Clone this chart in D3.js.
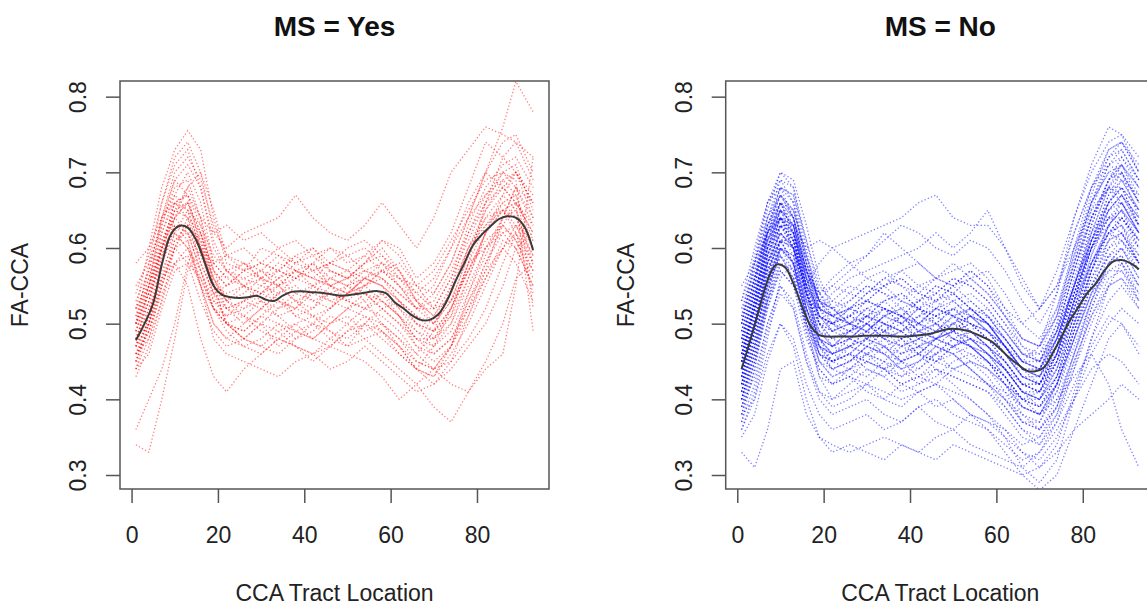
<!DOCTYPE html>
<html>
<head>
<meta charset="utf-8">
<script src="https://cdn.jsdelivr.net/npm/d3@7"></script>
<style>
  html, body { margin: 0; padding: 0; background: #fff; }
  svg { display: block; font-family: "Liberation Sans", Arial, Helvetica, sans-serif; }
</style>
</head>
<body>
<svg id="chart" width="1147" height="606"></svg>
<script>
const tractLocations = [1, 4, 7, 10, 13, 16, 19, 22, 26, 30, 34, 38, 42, 46, 50, 54, 58, 62, 66, 70, 74, 78, 82, 86, 89, 93];
const meanLocations = [1, 3, 5, 7, 9, 11, 13, 15, 17, 19, 21, 23, 25, 27, 29, 31, 33, 35, 37, 39, 41, 45, 49, 53, 57, 59, 61, 63, 65, 67, 69, 71, 73, 75, 77, 79, 81, 83, 85, 87, 89, 91, 93];
const xTicks = [0, 20, 40, 60, 80];
const yTicks = [0.3, 0.4, 0.5, 0.6, 0.7, 0.8];

// MS = Yes
const yesMean = [0.478, 0.500, 0.527, 0.578, 0.617, 0.629, 0.627, 0.610, 0.580, 0.550, 0.538, 0.535, 0.534, 0.535, 0.537, 0.532, 0.530, 0.537, 0.542, 0.543, 0.542, 0.540, 0.537, 0.540, 0.543, 0.540, 0.528, 0.520, 0.511, 0.505, 0.505, 0.512, 0.530, 0.556, 0.579, 0.603, 0.617, 0.628, 0.638, 0.642, 0.640, 0.628, 0.597];
const yes01 = [0.50, 0.58, 0.66, 0.72, 0.74, 0.70, 0.62, 0.60, 0.62, 0.63, 0.64, 0.67, 0.64, 0.62, 0.61, 0.63, 0.66, 0.63, 0.60, 0.64, 0.70, 0.73, 0.76, 0.75, 0.74, 0.72];
const yes02 = [0.52, 0.60, 0.68, 0.73, 0.755, 0.73, 0.64, 0.58, 0.57, 0.60, 0.59, 0.58, 0.60, 0.57, 0.56, 0.58, 0.61, 0.60, 0.56, 0.58, 0.62, 0.68, 0.74, 0.72, 0.70, 0.66];
const yes03 = [0.34, 0.33, 0.40, 0.48, 0.57, 0.60, 0.55, 0.50, 0.48, 0.50, 0.47, 0.49, 0.50, 0.48, 0.47, 0.50, 0.49, 0.46, 0.44, 0.47, 0.52, 0.58, 0.60, 0.62, 0.60, 0.55];
const yes04 = [0.36, 0.40, 0.44, 0.50, 0.58, 0.62, 0.56, 0.52, 0.50, 0.52, 0.54, 0.51, 0.50, 0.52, 0.55, 0.53, 0.50, 0.48, 0.46, 0.49, 0.55, 0.60, 0.63, 0.66, 0.64, 0.60];
const yes05 = [0.45, 0.50, 0.58, 0.63, 0.62, 0.57, 0.52, 0.50, 0.48, 0.47, 0.46, 0.48, 0.50, 0.49, 0.47, 0.48, 0.46, 0.44, 0.42, 0.39, 0.37, 0.41, 0.45, 0.50, 0.56, 0.58];
const yes06 = [0.44, 0.48, 0.55, 0.60, 0.61, 0.55, 0.48, 0.46, 0.45, 0.44, 0.43, 0.45, 0.46, 0.44, 0.45, 0.47, 0.45, 0.43, 0.41, 0.42, 0.44, 0.47, 0.50, 0.55, 0.60, 0.62];
const yes07 = [0.48, 0.52, 0.56, 0.58, 0.55, 0.48, 0.43, 0.41, 0.44, 0.46, 0.48, 0.47, 0.45, 0.47, 0.49, 0.50, 0.48, 0.46, 0.44, 0.43, 0.46, 0.50, 0.55, 0.60, 0.63, 0.61];
const yes08 = [0.47, 0.52, 0.60, 0.65, 0.66, 0.62, 0.57, 0.55, 0.56, 0.55, 0.57, 0.56, 0.55, 0.54, 0.55, 0.56, 0.55, 0.53, 0.51, 0.50, 0.54, 0.60, 0.65, 0.68, 0.66, 0.62];
const yes09 = [0.50, 0.55, 0.62, 0.67, 0.70, 0.66, 0.58, 0.56, 0.58, 0.57, 0.56, 0.58, 0.59, 0.57, 0.56, 0.58, 0.59, 0.57, 0.54, 0.52, 0.56, 0.63, 0.68, 0.71, 0.72, 0.68];
const yes10 = [0.46, 0.49, 0.55, 0.61, 0.63, 0.60, 0.53, 0.51, 0.52, 0.53, 0.51, 0.52, 0.54, 0.53, 0.52, 0.53, 0.54, 0.51, 0.48, 0.47, 0.50, 0.55, 0.60, 0.64, 0.65, 0.60];
const yes11 = [0.55, 0.58, 0.63, 0.69, 0.71, 0.68, 0.60, 0.57, 0.55, 0.56, 0.58, 0.57, 0.55, 0.56, 0.57, 0.55, 0.56, 0.54, 0.52, 0.54, 0.58, 0.64, 0.67, 0.69, 0.70, 0.64];
const yes12 = [0.58, 0.60, 0.64, 0.66, 0.65, 0.60, 0.55, 0.54, 0.55, 0.53, 0.52, 0.54, 0.55, 0.53, 0.54, 0.56, 0.57, 0.55, 0.53, 0.55, 0.60, 0.66, 0.70, 0.68, 0.66, 0.63];
const yes13 = [0.44, 0.46, 0.52, 0.57, 0.58, 0.56, 0.52, 0.49, 0.47, 0.48, 0.50, 0.49, 0.48, 0.50, 0.51, 0.49, 0.50, 0.48, 0.45, 0.44, 0.45, 0.48, 0.52, 0.58, 0.62, 0.57];
const yes14 = [0.49, 0.54, 0.61, 0.65, 0.64, 0.60, 0.56, 0.53, 0.54, 0.56, 0.55, 0.53, 0.54, 0.56, 0.55, 0.54, 0.52, 0.50, 0.48, 0.46, 0.48, 0.53, 0.58, 0.62, 0.63, 0.59];
const yes15 = [0.50, 0.56, 0.62, 0.66, 0.67, 0.64, 0.62, 0.63, 0.61, 0.62, 0.60, 0.61, 0.59, 0.60, 0.58, 0.59, 0.57, 0.56, 0.55, 0.57, 0.61, 0.65, 0.69, 0.70, 0.68, 0.66];
const yes16 = [0.51, 0.55, 0.60, 0.64, 0.66, 0.62, 0.57, 0.55, 0.57, 0.58, 0.57, 0.56, 0.58, 0.60, 0.59, 0.57, 0.58, 0.56, 0.54, 0.56, 0.60, 0.64, 0.70, 0.76, 0.82, 0.78];
const yes17 = [0.47, 0.50, 0.56, 0.60, 0.58, 0.53, 0.49, 0.47, 0.48, 0.50, 0.49, 0.47, 0.46, 0.48, 0.50, 0.52, 0.51, 0.49, 0.46, 0.44, 0.42, 0.41, 0.44, 0.46, 0.55, 0.72];
const yes18 = [0.48, 0.53, 0.59, 0.63, 0.63, 0.58, 0.54, 0.52, 0.53, 0.52, 0.54, 0.55, 0.53, 0.54, 0.53, 0.55, 0.57, 0.58, 0.55, 0.52, 0.53, 0.57, 0.62, 0.66, 0.67, 0.60];
const yes19 = [0.53, 0.57, 0.64, 0.70, 0.72, 0.69, 0.63, 0.59, 0.58, 0.56, 0.57, 0.59, 0.57, 0.58, 0.60, 0.61, 0.59, 0.56, 0.53, 0.50, 0.53, 0.59, 0.64, 0.67, 0.65, 0.58];
const yes20 = [0.45, 0.49, 0.56, 0.62, 0.65, 0.63, 0.57, 0.53, 0.51, 0.50, 0.52, 0.53, 0.51, 0.50, 0.52, 0.54, 0.53, 0.51, 0.47, 0.45, 0.47, 0.51, 0.56, 0.61, 0.60, 0.55];
const yes21 = [0.46, 0.51, 0.59, 0.65, 0.68, 0.64, 0.58, 0.56, 0.55, 0.57, 0.59, 0.57, 0.56, 0.55, 0.56, 0.58, 0.60, 0.57, 0.53, 0.51, 0.54, 0.60, 0.64, 0.65, 0.62, 0.54];
const yes22 = [0.52, 0.56, 0.63, 0.68, 0.69, 0.64, 0.55, 0.52, 0.51, 0.53, 0.55, 0.53, 0.52, 0.55, 0.53, 0.52, 0.54, 0.52, 0.49, 0.47, 0.49, 0.54, 0.59, 0.64, 0.68, 0.64];
const yes23 = [0.49, 0.53, 0.60, 0.66, 0.64, 0.58, 0.54, 0.55, 0.57, 0.56, 0.53, 0.52, 0.55, 0.57, 0.56, 0.54, 0.52, 0.53, 0.51, 0.49, 0.52, 0.57, 0.61, 0.63, 0.61, 0.56];
const yes24 = [0.47, 0.50, 0.57, 0.61, 0.62, 0.59, 0.55, 0.53, 0.55, 0.54, 0.56, 0.57, 0.56, 0.58, 0.57, 0.56, 0.55, 0.52, 0.50, 0.48, 0.51, 0.58, 0.66, 0.70, 0.69, 0.52];
const yes25 = [0.50, 0.54, 0.58, 0.62, 0.60, 0.56, 0.52, 0.50, 0.49, 0.51, 0.53, 0.52, 0.51, 0.52, 0.54, 0.56, 0.55, 0.53, 0.50, 0.49, 0.51, 0.56, 0.62, 0.65, 0.66, 0.49];
const yes26 = [0.46, 0.48, 0.53, 0.58, 0.59, 0.55, 0.50, 0.48, 0.47, 0.46, 0.48, 0.47, 0.46, 0.47, 0.46, 0.45, 0.43, 0.40, 0.42, 0.44, 0.47, 0.52, 0.58, 0.63, 0.66, 0.62];
const yes27 = [0.47, 0.55, 0.64, 0.69, 0.67, 0.60, 0.55, 0.57, 0.58, 0.56, 0.55, 0.57, 0.58, 0.55, 0.54, 0.56, 0.58, 0.57, 0.53, 0.51, 0.55, 0.62, 0.67, 0.70, 0.71, 0.65];
const yes28 = [0.43, 0.47, 0.53, 0.60, 0.64, 0.62, 0.55, 0.50, 0.49, 0.51, 0.50, 0.48, 0.49, 0.51, 0.50, 0.48, 0.49, 0.47, 0.44, 0.43, 0.47, 0.54, 0.60, 0.63, 0.61, 0.57];
const yes29 = [0.51, 0.57, 0.64, 0.67, 0.65, 0.60, 0.58, 0.59, 0.60, 0.58, 0.57, 0.59, 0.60, 0.58, 0.57, 0.59, 0.61, 0.59, 0.55, 0.54, 0.58, 0.64, 0.70, 0.74, 0.75, 0.70];
const yes30 = [0.48, 0.50, 0.55, 0.60, 0.63, 0.61, 0.56, 0.53, 0.52, 0.54, 0.56, 0.54, 0.53, 0.52, 0.54, 0.55, 0.53, 0.51, 0.49, 0.48, 0.50, 0.56, 0.62, 0.67, 0.70, 0.66];
const yes31 = [0.45, 0.51, 0.58, 0.63, 0.61, 0.55, 0.50, 0.48, 0.50, 0.52, 0.51, 0.49, 0.48, 0.50, 0.52, 0.51, 0.49, 0.47, 0.45, 0.44, 0.47, 0.53, 0.57, 0.60, 0.58, 0.53];
const yes32 = [0.50, 0.54, 0.60, 0.64, 0.68, 0.70, 0.65, 0.59, 0.57, 0.58, 0.60, 0.58, 0.57, 0.58, 0.59, 0.60, 0.58, 0.55, 0.52, 0.53, 0.57, 0.62, 0.66, 0.68, 0.70, 0.67];
const yes33 = [0.54, 0.59, 0.66, 0.71, 0.73, 0.68, 0.61, 0.57, 0.56, 0.57, 0.55, 0.56, 0.58, 0.56, 0.55, 0.57, 0.56, 0.53, 0.50, 0.49, 0.52, 0.57, 0.62, 0.65, 0.64, 0.59];
const yes34 = [0.46, 0.49, 0.54, 0.58, 0.60, 0.57, 0.52, 0.50, 0.51, 0.49, 0.48, 0.50, 0.51, 0.49, 0.48, 0.50, 0.52, 0.50, 0.47, 0.46, 0.48, 0.52, 0.56, 0.60, 0.62, 0.58];
const yes35 = [0.49, 0.55, 0.61, 0.64, 0.62, 0.57, 0.53, 0.52, 0.53, 0.55, 0.54, 0.56, 0.57, 0.55, 0.54, 0.55, 0.57, 0.55, 0.52, 0.50, 0.53, 0.59, 0.65, 0.69, 0.67, 0.61];
const yes36 = [0.44, 0.50, 0.58, 0.64, 0.66, 0.61, 0.54, 0.50, 0.48, 0.47, 0.49, 0.50, 0.48, 0.47, 0.49, 0.51, 0.50, 0.47, 0.44, 0.42, 0.45, 0.51, 0.57, 0.64, 0.68, 0.63];
const yes37 = [0.52, 0.55, 0.60, 0.62, 0.60, 0.55, 0.52, 0.51, 0.53, 0.54, 0.53, 0.51, 0.52, 0.54, 0.53, 0.52, 0.53, 0.51, 0.48, 0.48, 0.52, 0.58, 0.63, 0.65, 0.63, 0.58];
const yes38 = [0.48, 0.53, 0.60, 0.66, 0.67, 0.63, 0.59, 0.57, 0.55, 0.54, 0.55, 0.57, 0.56, 0.55, 0.56, 0.57, 0.56, 0.54, 0.52, 0.52, 0.56, 0.61, 0.66, 0.72, 0.74, 0.69];

// MS = No
const noMean = [0.440, 0.478, 0.518, 0.557, 0.578, 0.575, 0.553, 0.523, 0.497, 0.485, 0.483, 0.483, 0.483, 0.483, 0.484, 0.484, 0.484, 0.484, 0.483, 0.483, 0.484, 0.487, 0.493, 0.491, 0.482, 0.476, 0.466, 0.455, 0.446, 0.438, 0.437, 0.442, 0.461, 0.482, 0.504, 0.522, 0.540, 0.553, 0.570, 0.582, 0.584, 0.580, 0.572];
const no01 = [0.44, 0.52, 0.60, 0.66, 0.62, 0.53, 0.48, 0.47, 0.49, 0.48, 0.50, 0.49, 0.47, 0.48, 0.50, 0.49, 0.47, 0.45, 0.42, 0.41, 0.45, 0.52, 0.59, 0.64, 0.65, 0.60];
const no02 = [0.40, 0.47, 0.56, 0.62, 0.60, 0.52, 0.46, 0.44, 0.45, 0.47, 0.46, 0.44, 0.45, 0.47, 0.46, 0.44, 0.42, 0.40, 0.38, 0.37, 0.42, 0.48, 0.54, 0.60, 0.62, 0.59];
const no03 = [0.48, 0.56, 0.64, 0.69, 0.68, 0.60, 0.52, 0.50, 0.52, 0.51, 0.53, 0.54, 0.52, 0.51, 0.53, 0.54, 0.52, 0.49, 0.46, 0.45, 0.50, 0.58, 0.66, 0.72, 0.73, 0.69];
const no04 = [0.33, 0.31, 0.36, 0.44, 0.45, 0.38, 0.35, 0.34, 0.33, 0.34, 0.35, 0.34, 0.33, 0.32, 0.34, 0.33, 0.32, 0.31, 0.30, 0.31, 0.33, 0.36, 0.38, 0.40, 0.42, 0.40];
const no05 = [0.36, 0.40, 0.48, 0.56, 0.58, 0.50, 0.43, 0.40, 0.41, 0.42, 0.40, 0.39, 0.41, 0.42, 0.40, 0.38, 0.37, 0.36, 0.34, 0.35, 0.38, 0.44, 0.50, 0.55, 0.56, 0.52];
const no06 = [0.45, 0.53, 0.62, 0.67, 0.65, 0.58, 0.53, 0.55, 0.57, 0.59, 0.62, 0.60, 0.58, 0.56, 0.57, 0.58, 0.56, 0.52, 0.48, 0.47, 0.52, 0.60, 0.66, 0.70, 0.71, 0.66];
const no07 = [0.42, 0.50, 0.58, 0.62, 0.60, 0.55, 0.58, 0.60, 0.61, 0.62, 0.63, 0.64, 0.66, 0.67, 0.64, 0.63, 0.63, 0.60, 0.56, 0.52, 0.55, 0.62, 0.68, 0.72, 0.74, 0.70];
const no08 = [0.50, 0.58, 0.65, 0.70, 0.69, 0.63, 0.56, 0.52, 0.50, 0.51, 0.49, 0.50, 0.52, 0.50, 0.49, 0.51, 0.50, 0.47, 0.44, 0.43, 0.48, 0.55, 0.62, 0.68, 0.70, 0.64];
const no09 = [0.38, 0.44, 0.52, 0.58, 0.57, 0.49, 0.43, 0.42, 0.44, 0.43, 0.45, 0.44, 0.42, 0.43, 0.45, 0.46, 0.44, 0.41, 0.37, 0.36, 0.40, 0.46, 0.52, 0.58, 0.60, 0.57];
const no10 = [0.46, 0.54, 0.60, 0.63, 0.60, 0.54, 0.50, 0.49, 0.50, 0.52, 0.50, 0.49, 0.51, 0.52, 0.51, 0.49, 0.47, 0.44, 0.41, 0.40, 0.43, 0.50, 0.57, 0.63, 0.66, 0.62];
const no11 = [0.52, 0.57, 0.62, 0.64, 0.61, 0.55, 0.52, 0.53, 0.55, 0.54, 0.56, 0.57, 0.55, 0.54, 0.56, 0.55, 0.53, 0.50, 0.47, 0.46, 0.49, 0.55, 0.61, 0.66, 0.68, 0.65];
const no12 = [0.41, 0.48, 0.55, 0.60, 0.58, 0.51, 0.46, 0.45, 0.46, 0.45, 0.44, 0.46, 0.47, 0.45, 0.44, 0.45, 0.44, 0.42, 0.40, 0.41, 0.46, 0.53, 0.58, 0.62, 0.61, 0.57];
const no13 = [0.35, 0.38, 0.45, 0.50, 0.48, 0.42, 0.38, 0.36, 0.37, 0.38, 0.36, 0.37, 0.39, 0.37, 0.36, 0.38, 0.37, 0.35, 0.33, 0.32, 0.35, 0.40, 0.46, 0.50, 0.52, 0.50];
const no14 = [0.47, 0.55, 0.63, 0.68, 0.66, 0.58, 0.50, 0.47, 0.48, 0.50, 0.48, 0.47, 0.48, 0.50, 0.52, 0.50, 0.48, 0.46, 0.43, 0.42, 0.47, 0.56, 0.64, 0.69, 0.70, 0.66];
const no15 = [0.43, 0.49, 0.57, 0.63, 0.62, 0.56, 0.51, 0.50, 0.48, 0.47, 0.49, 0.51, 0.50, 0.48, 0.47, 0.49, 0.51, 0.48, 0.45, 0.44, 0.47, 0.52, 0.58, 0.62, 0.64, 0.61];
const no16 = [0.55, 0.58, 0.62, 0.65, 0.62, 0.56, 0.54, 0.56, 0.58, 0.56, 0.55, 0.57, 0.58, 0.56, 0.55, 0.57, 0.55, 0.52, 0.50, 0.52, 0.57, 0.64, 0.70, 0.74, 0.75, 0.72];
const no17 = [0.40, 0.45, 0.52, 0.57, 0.55, 0.48, 0.44, 0.42, 0.43, 0.41, 0.40, 0.42, 0.41, 0.39, 0.40, 0.38, 0.36, 0.33, 0.30, 0.28, 0.30, 0.36, 0.42, 0.48, 0.50, 0.47];
const no18 = [0.37, 0.42, 0.50, 0.55, 0.53, 0.46, 0.41, 0.40, 0.42, 0.44, 0.43, 0.41, 0.42, 0.44, 0.43, 0.42, 0.41, 0.39, 0.36, 0.34, 0.37, 0.44, 0.52, 0.57, 0.58, 0.54];
const no19 = [0.49, 0.55, 0.62, 0.66, 0.64, 0.57, 0.52, 0.51, 0.53, 0.55, 0.54, 0.52, 0.53, 0.55, 0.54, 0.52, 0.50, 0.48, 0.45, 0.44, 0.49, 0.57, 0.64, 0.68, 0.67, 0.63];
const no20 = [0.44, 0.51, 0.59, 0.64, 0.61, 0.54, 0.49, 0.48, 0.47, 0.49, 0.51, 0.50, 0.48, 0.47, 0.49, 0.50, 0.49, 0.47, 0.44, 0.43, 0.48, 0.55, 0.61, 0.65, 0.66, 0.63];
const no21 = [0.46, 0.53, 0.60, 0.65, 0.63, 0.60, 0.61, 0.60, 0.58, 0.59, 0.61, 0.63, 0.62, 0.60, 0.59, 0.61, 0.60, 0.57, 0.53, 0.50, 0.54, 0.62, 0.68, 0.71, 0.70, 0.66];
const no22 = [0.39, 0.45, 0.53, 0.59, 0.56, 0.50, 0.45, 0.43, 0.44, 0.46, 0.45, 0.43, 0.44, 0.46, 0.47, 0.45, 0.44, 0.42, 0.39, 0.38, 0.42, 0.49, 0.55, 0.59, 0.58, 0.53];
const no23 = [0.42, 0.48, 0.55, 0.59, 0.57, 0.52, 0.48, 0.47, 0.48, 0.47, 0.46, 0.48, 0.49, 0.48, 0.47, 0.48, 0.46, 0.44, 0.41, 0.40, 0.44, 0.50, 0.56, 0.60, 0.61, 0.58];
const no24 = [0.50, 0.57, 0.64, 0.68, 0.67, 0.61, 0.54, 0.51, 0.52, 0.54, 0.56, 0.55, 0.53, 0.52, 0.54, 0.56, 0.57, 0.54, 0.50, 0.48, 0.52, 0.59, 0.66, 0.70, 0.69, 0.65];
const no25 = [0.38, 0.40, 0.46, 0.50, 0.47, 0.40, 0.35, 0.33, 0.34, 0.33, 0.32, 0.34, 0.33, 0.35, 0.36, 0.34, 0.33, 0.32, 0.31, 0.33, 0.36, 0.40, 0.44, 0.46, 0.45, 0.42];
const no26 = [0.45, 0.52, 0.58, 0.61, 0.58, 0.52, 0.48, 0.46, 0.47, 0.49, 0.48, 0.46, 0.47, 0.49, 0.50, 0.48, 0.46, 0.43, 0.40, 0.39, 0.42, 0.48, 0.54, 0.58, 0.59, 0.55];
const no27 = [0.47, 0.53, 0.60, 0.64, 0.62, 0.55, 0.51, 0.50, 0.51, 0.52, 0.51, 0.50, 0.52, 0.53, 0.51, 0.50, 0.49, 0.47, 0.45, 0.47, 0.54, 0.64, 0.71, 0.76, 0.75, 0.70];
const no28 = [0.44, 0.50, 0.56, 0.60, 0.58, 0.53, 0.52, 0.54, 0.56, 0.57, 0.58, 0.59, 0.60, 0.62, 0.60, 0.62, 0.65, 0.60, 0.55, 0.52, 0.55, 0.60, 0.65, 0.68, 0.66, 0.62];
const no29 = [0.41, 0.47, 0.54, 0.60, 0.59, 0.52, 0.47, 0.45, 0.44, 0.46, 0.47, 0.45, 0.44, 0.46, 0.48, 0.47, 0.45, 0.42, 0.38, 0.36, 0.39, 0.45, 0.51, 0.56, 0.57, 0.54];
const no30 = [0.48, 0.54, 0.61, 0.65, 0.63, 0.56, 0.52, 0.51, 0.52, 0.51, 0.53, 0.54, 0.52, 0.51, 0.52, 0.53, 0.51, 0.48, 0.45, 0.44, 0.48, 0.54, 0.60, 0.64, 0.66, 0.62];
const no31 = [0.36, 0.41, 0.49, 0.54, 0.52, 0.45, 0.40, 0.38, 0.39, 0.40, 0.38, 0.37, 0.39, 0.40, 0.38, 0.37, 0.36, 0.34, 0.32, 0.33, 0.37, 0.42, 0.47, 0.51, 0.50, 0.46];
const no32 = [0.53, 0.58, 0.64, 0.67, 0.64, 0.57, 0.54, 0.55, 0.54, 0.56, 0.57, 0.55, 0.54, 0.56, 0.58, 0.56, 0.54, 0.51, 0.48, 0.47, 0.51, 0.58, 0.64, 0.69, 0.71, 0.68];
const no33 = [0.43, 0.50, 0.58, 0.63, 0.61, 0.54, 0.48, 0.46, 0.45, 0.47, 0.49, 0.48, 0.46, 0.45, 0.47, 0.48, 0.47, 0.45, 0.42, 0.41, 0.45, 0.51, 0.57, 0.61, 0.62, 0.58];
const no34 = [0.40, 0.46, 0.54, 0.61, 0.62, 0.55, 0.47, 0.44, 0.43, 0.42, 0.44, 0.45, 0.43, 0.42, 0.44, 0.45, 0.43, 0.40, 0.37, 0.37, 0.41, 0.47, 0.53, 0.58, 0.60, 0.56];
const no35 = [0.45, 0.50, 0.57, 0.61, 0.58, 0.51, 0.46, 0.45, 0.46, 0.44, 0.43, 0.45, 0.46, 0.44, 0.42, 0.40, 0.38, 0.35, 0.31, 0.29, 0.32, 0.40, 0.48, 0.55, 0.58, 0.55];
const no36 = [0.49, 0.56, 0.63, 0.67, 0.65, 0.59, 0.53, 0.50, 0.49, 0.50, 0.52, 0.51, 0.49, 0.50, 0.52, 0.51, 0.49, 0.46, 0.43, 0.43, 0.47, 0.54, 0.61, 0.66, 0.68, 0.65];
const no37 = [0.42, 0.47, 0.53, 0.57, 0.55, 0.50, 0.47, 0.46, 0.47, 0.48, 0.47, 0.45, 0.46, 0.48, 0.49, 0.47, 0.45, 0.43, 0.40, 0.39, 0.43, 0.50, 0.57, 0.62, 0.64, 0.61];
const no38 = [0.44, 0.49, 0.55, 0.59, 0.56, 0.50, 0.46, 0.44, 0.45, 0.46, 0.44, 0.43, 0.45, 0.46, 0.44, 0.43, 0.42, 0.41, 0.39, 0.38, 0.40, 0.43, 0.46, 0.42, 0.36, 0.31];
const no39 = [0.51, 0.56, 0.61, 0.64, 0.62, 0.57, 0.53, 0.52, 0.50, 0.49, 0.51, 0.52, 0.50, 0.49, 0.51, 0.52, 0.50, 0.47, 0.44, 0.42, 0.46, 0.53, 0.60, 0.66, 0.69, 0.67];
const no40 = [0.46, 0.52, 0.59, 0.63, 0.60, 0.53, 0.49, 0.47, 0.48, 0.50, 0.49, 0.48, 0.50, 0.51, 0.49, 0.48, 0.47, 0.45, 0.42, 0.42, 0.46, 0.53, 0.60, 0.65, 0.67, 0.64];
const no41 = [0.43, 0.51, 0.60, 0.65, 0.63, 0.56, 0.50, 0.48, 0.49, 0.51, 0.50, 0.48, 0.49, 0.51, 0.52, 0.50, 0.48, 0.45, 0.42, 0.41, 0.45, 0.52, 0.60, 0.66, 0.68, 0.63];
const no42 = [0.47, 0.54, 0.62, 0.66, 0.62, 0.55, 0.50, 0.49, 0.51, 0.50, 0.48, 0.49, 0.51, 0.50, 0.48, 0.47, 0.46, 0.44, 0.41, 0.40, 0.44, 0.51, 0.58, 0.62, 0.63, 0.60];
const no43 = [0.41, 0.49, 0.58, 0.64, 0.63, 0.54, 0.47, 0.45, 0.47, 0.48, 0.46, 0.45, 0.47, 0.48, 0.47, 0.46, 0.45, 0.43, 0.40, 0.39, 0.43, 0.50, 0.57, 0.62, 0.63, 0.59];
const no44 = [0.44, 0.52, 0.61, 0.66, 0.64, 0.57, 0.52, 0.51, 0.50, 0.52, 0.53, 0.51, 0.50, 0.52, 0.53, 0.51, 0.49, 0.47, 0.44, 0.43, 0.46, 0.53, 0.61, 0.67, 0.70, 0.66];
const no45 = [0.39, 0.46, 0.55, 0.61, 0.60, 0.53, 0.48, 0.46, 0.47, 0.46, 0.48, 0.49, 0.47, 0.46, 0.48, 0.49, 0.47, 0.44, 0.41, 0.39, 0.42, 0.49, 0.56, 0.61, 0.62, 0.58];
const no46 = [0.48, 0.55, 0.62, 0.65, 0.61, 0.54, 0.50, 0.50, 0.52, 0.53, 0.52, 0.50, 0.51, 0.53, 0.54, 0.52, 0.50, 0.47, 0.44, 0.44, 0.49, 0.57, 0.64, 0.68, 0.68, 0.63];
const no47 = [0.42, 0.50, 0.59, 0.65, 0.64, 0.58, 0.53, 0.51, 0.50, 0.49, 0.51, 0.52, 0.50, 0.49, 0.50, 0.52, 0.51, 0.48, 0.45, 0.44, 0.48, 0.55, 0.62, 0.66, 0.66, 0.62];
const no48 = [0.45, 0.53, 0.61, 0.64, 0.60, 0.52, 0.47, 0.46, 0.48, 0.49, 0.47, 0.46, 0.48, 0.49, 0.48, 0.47, 0.45, 0.42, 0.40, 0.40, 0.45, 0.53, 0.61, 0.67, 0.69, 0.65];
const no49 = [0.50, 0.58, 0.66, 0.69, 0.66, 0.58, 0.53, 0.52, 0.54, 0.53, 0.55, 0.56, 0.54, 0.53, 0.55, 0.56, 0.54, 0.51, 0.48, 0.47, 0.51, 0.59, 0.67, 0.73, 0.74, 0.70];
const no50 = [0.37, 0.44, 0.53, 0.60, 0.59, 0.51, 0.45, 0.43, 0.44, 0.45, 0.44, 0.42, 0.43, 0.45, 0.46, 0.44, 0.42, 0.40, 0.37, 0.36, 0.39, 0.46, 0.53, 0.58, 0.59, 0.55];
const no51 = [0.46, 0.53, 0.60, 0.64, 0.63, 0.57, 0.51, 0.49, 0.50, 0.49, 0.51, 0.53, 0.52, 0.50, 0.49, 0.51, 0.52, 0.49, 0.46, 0.45, 0.49, 0.55, 0.61, 0.64, 0.64, 0.60];
const no52 = [0.43, 0.50, 0.58, 0.62, 0.59, 0.52, 0.48, 0.47, 0.49, 0.51, 0.50, 0.49, 0.50, 0.52, 0.51, 0.49, 0.47, 0.44, 0.41, 0.41, 0.46, 0.54, 0.62, 0.68, 0.71, 0.68];
const no53 = [0.49, 0.56, 0.62, 0.64, 0.60, 0.54, 0.51, 0.50, 0.49, 0.50, 0.52, 0.51, 0.49, 0.48, 0.50, 0.51, 0.49, 0.46, 0.43, 0.42, 0.46, 0.52, 0.58, 0.63, 0.65, 0.62];
const no54 = [0.40, 0.47, 0.56, 0.63, 0.63, 0.55, 0.48, 0.45, 0.46, 0.48, 0.47, 0.45, 0.46, 0.48, 0.49, 0.48, 0.46, 0.43, 0.39, 0.38, 0.42, 0.49, 0.57, 0.63, 0.65, 0.61];
const no55 = [0.45, 0.52, 0.59, 0.63, 0.61, 0.55, 0.51, 0.50, 0.51, 0.53, 0.52, 0.51, 0.53, 0.55, 0.54, 0.52, 0.50, 0.47, 0.44, 0.44, 0.48, 0.55, 0.63, 0.69, 0.72, 0.69];
const no56 = [0.42, 0.49, 0.57, 0.61, 0.58, 0.51, 0.46, 0.45, 0.46, 0.45, 0.47, 0.48, 0.46, 0.45, 0.47, 0.48, 0.46, 0.44, 0.41, 0.40, 0.43, 0.49, 0.55, 0.59, 0.60, 0.56];
const no57 = [0.51, 0.59, 0.66, 0.70, 0.68, 0.61, 0.55, 0.53, 0.52, 0.54, 0.55, 0.53, 0.52, 0.54, 0.56, 0.55, 0.53, 0.50, 0.46, 0.45, 0.49, 0.57, 0.65, 0.71, 0.73, 0.69];
const no58 = [0.44, 0.51, 0.59, 0.64, 0.62, 0.56, 0.51, 0.49, 0.48, 0.50, 0.48, 0.47, 0.49, 0.50, 0.48, 0.47, 0.46, 0.44, 0.42, 0.42, 0.47, 0.54, 0.60, 0.64, 0.63, 0.58];
const no59 = [0.38, 0.45, 0.54, 0.60, 0.58, 0.50, 0.45, 0.44, 0.45, 0.47, 0.46, 0.44, 0.45, 0.47, 0.46, 0.44, 0.42, 0.39, 0.36, 0.35, 0.39, 0.46, 0.53, 0.59, 0.61, 0.58];
const no60 = [0.47, 0.55, 0.63, 0.67, 0.64, 0.56, 0.51, 0.50, 0.51, 0.50, 0.49, 0.51, 0.52, 0.51, 0.50, 0.51, 0.50, 0.47, 0.44, 0.43, 0.47, 0.55, 0.63, 0.69, 0.71, 0.67];
const no61 = [0.46, 0.52, 0.58, 0.62, 0.60, 0.54, 0.50, 0.48, 0.49, 0.51, 0.52, 0.50, 0.48, 0.49, 0.51, 0.52, 0.50, 0.47, 0.43, 0.42, 0.45, 0.51, 0.58, 0.63, 0.65, 0.62];
const no62 = [0.41, 0.48, 0.56, 0.61, 0.61, 0.54, 0.49, 0.47, 0.46, 0.48, 0.49, 0.47, 0.46, 0.48, 0.49, 0.47, 0.45, 0.43, 0.40, 0.38, 0.41, 0.48, 0.55, 0.61, 0.64, 0.61];
const no63 = [0.53, 0.60, 0.66, 0.68, 0.64, 0.57, 0.53, 0.52, 0.53, 0.55, 0.54, 0.53, 0.55, 0.56, 0.55, 0.53, 0.51, 0.49, 0.46, 0.46, 0.51, 0.60, 0.68, 0.73, 0.74, 0.71];
const no64 = [0.43, 0.49, 0.56, 0.60, 0.57, 0.51, 0.47, 0.46, 0.47, 0.46, 0.45, 0.47, 0.48, 0.47, 0.46, 0.47, 0.45, 0.42, 0.39, 0.38, 0.42, 0.48, 0.54, 0.57, 0.57, 0.53];
const no65 = [0.48, 0.54, 0.61, 0.66, 0.65, 0.59, 0.54, 0.52, 0.51, 0.53, 0.52, 0.51, 0.53, 0.54, 0.53, 0.51, 0.50, 0.48, 0.45, 0.45, 0.50, 0.58, 0.66, 0.71, 0.72, 0.68];
const no66 = [0.39, 0.43, 0.50, 0.55, 0.52, 0.45, 0.41, 0.39, 0.40, 0.42, 0.41, 0.40, 0.41, 0.42, 0.41, 0.40, 0.38, 0.36, 0.33, 0.31, 0.34, 0.41, 0.48, 0.53, 0.55, 0.52];
const no67 = [0.45, 0.53, 0.62, 0.68, 0.67, 0.59, 0.52, 0.49, 0.50, 0.51, 0.50, 0.49, 0.50, 0.52, 0.51, 0.50, 0.49, 0.46, 0.43, 0.42, 0.46, 0.53, 0.60, 0.65, 0.67, 0.63];
const no68 = [0.44, 0.50, 0.57, 0.61, 0.60, 0.55, 0.52, 0.51, 0.52, 0.53, 0.55, 0.56, 0.54, 0.53, 0.55, 0.57, 0.55, 0.51, 0.47, 0.45, 0.48, 0.54, 0.60, 0.63, 0.62, 0.58];
const no69 = [0.50, 0.56, 0.63, 0.66, 0.63, 0.57, 0.53, 0.51, 0.50, 0.48, 0.50, 0.51, 0.49, 0.48, 0.49, 0.50, 0.48, 0.45, 0.42, 0.41, 0.44, 0.51, 0.59, 0.65, 0.67, 0.64];
const no70 = [0.40, 0.46, 0.53, 0.58, 0.56, 0.49, 0.44, 0.42, 0.43, 0.45, 0.44, 0.42, 0.43, 0.44, 0.43, 0.42, 0.41, 0.38, 0.35, 0.34, 0.38, 0.45, 0.51, 0.55, 0.56, 0.53];

const yesCurves = [yes01, yes02, yes03, yes04, yes05, yes06, yes07, yes08, yes09, yes10, yes11, yes12, yes13,
  yes14, yes15, yes16, yes17, yes18, yes19, yes20, yes21, yes22, yes23, yes24, yes25, yes26, yes27, yes28,
  yes29, yes30, yes31, yes32, yes33, yes34, yes35, yes36, yes37, yes38];
const noCurves = [no01, no02, no03, no04, no05, no06, no07, no08, no09, no10, no11, no12, no13, no14, no15, no16,
  no17, no18, no19, no20, no21, no22, no23, no24, no25, no26, no27, no28, no29, no30, no31, no32, no33, no34,
  no35, no36, no37, no38, no39, no40, no41, no42, no43, no44, no45, no46, no47, no48, no49, no50, no51, no52,
  no53, no54, no55, no56, no57, no58, no59, no60, no61, no62, no63, no64, no65, no66, no67, no68, no69, no70];

const panels = [
  { title: "MS = Yes", curves: yesCurves, mean: yesMean, color: "#ff0000", left: 120, right: 549 },
  { title: "MS = No", curves: noCurves, mean: noMean, color: "#0000ff", left: 725.7, right: 1154.8 }
];

const svg = d3.select("#chart");
const plotTop = 81, plotBottom = 489;
const axisColor = "#555";

// R-style padded limits (4% each side of the data range)
const y = d3.scaleLinear().domain([0.2815, 0.8207]).range([plotBottom, plotTop]);

panels.forEach((p, idx) => {
  const x = d3.scaleLinear().domain([-2.68, 96.68]).range([p.left, p.right]);
  const g = svg.append("g");
  const cx = (p.left + p.right) / 2;

  svg.append("clipPath").attr("id", "clip" + idx)
    .append("rect").attr("x", p.left).attr("y", plotTop)
    .attr("width", p.right - p.left).attr("height", plotBottom - plotTop);

  const plot = g.append("g").attr("clip-path", `url(#clip${idx})`);

  const curveLine = d3.line()
    .x((d, i) => x(tractLocations[i]))
    .y(d => y(d));

  plot.selectAll(".subject").data(p.curves).enter().append("path")
    .attr("class", "subject")
    .attr("d", curveLine)
    .attr("fill", "none")
    .attr("stroke", p.color)
    .attr("stroke-opacity", 0.5)
    .attr("stroke-width", 1.3)
    .attr("stroke-dasharray", "1.3,2.2");

  const meanLine = d3.line()
    .x((d, i) => x(meanLocations[i]))
    .y(d => y(d))
    .curve(d3.curveCatmullRom);

  plot.append("path")
    .attr("d", meanLine(p.mean))
    .attr("fill", "none")
    .attr("stroke", "#3a3a3a")
    .attr("stroke-width", 2);

  // box
  g.append("rect")
    .attr("x", p.left).attr("y", plotTop)
    .attr("width", p.right - p.left).attr("height", plotBottom - plotTop)
    .attr("fill", "none").attr("stroke", axisColor).attr("stroke-width", 1.5);

  // x axis
  const xAxis = g.append("g")
    .attr("transform", `translate(0,${plotBottom})`)
    .call(d3.axisBottom(x).tickValues(xTicks).tickSize(14).tickFormat(d3.format("d")));
  xAxis.select(".domain").remove();
  xAxis.selectAll(".tick line").attr("stroke", axisColor).attr("stroke-width", 1.5);
  xAxis.selectAll(".tick text")
    .attr("fill", "#222").attr("font-size", 23).attr("dy", null).attr("y", 54);

  // y axis
  const yAxis = g.append("g")
    .attr("transform", `translate(${p.left},0)`)
    .call(d3.axisLeft(y).tickValues(yTicks).tickSize(14).tickFormat(d3.format(".1f")));
  yAxis.select(".domain").remove();
  yAxis.selectAll(".tick line").attr("stroke", axisColor).attr("stroke-width", 1.5);
  yAxis.selectAll(".tick text")
    .attr("fill", "#222").attr("font-size", 23)
    .attr("x", null).attr("dy", null)
    .attr("text-anchor", "middle")
    .attr("transform", "translate(-34,0) rotate(-90)");

  // titles
  svg.append("text")
    .attr("x", cx).attr("y", 36)
    .attr("text-anchor", "middle")
    .attr("font-size", 28).attr("font-weight", "bold").attr("fill", "#111")
    .text(p.title);

  svg.append("text")
    .attr("x", cx).attr("y", 601)
    .attr("text-anchor", "middle")
    .attr("font-size", 23).attr("fill", "#222")
    .text("CCA Tract Location");

  svg.append("text")
    .attr("transform", `translate(${p.left - 92},${(plotTop + plotBottom) / 2}) rotate(-90)`)
    .attr("text-anchor", "middle")
    .attr("font-size", 23).attr("fill", "#222")
    .text("FA-CCA");
});
</script>
</body>
</html>
